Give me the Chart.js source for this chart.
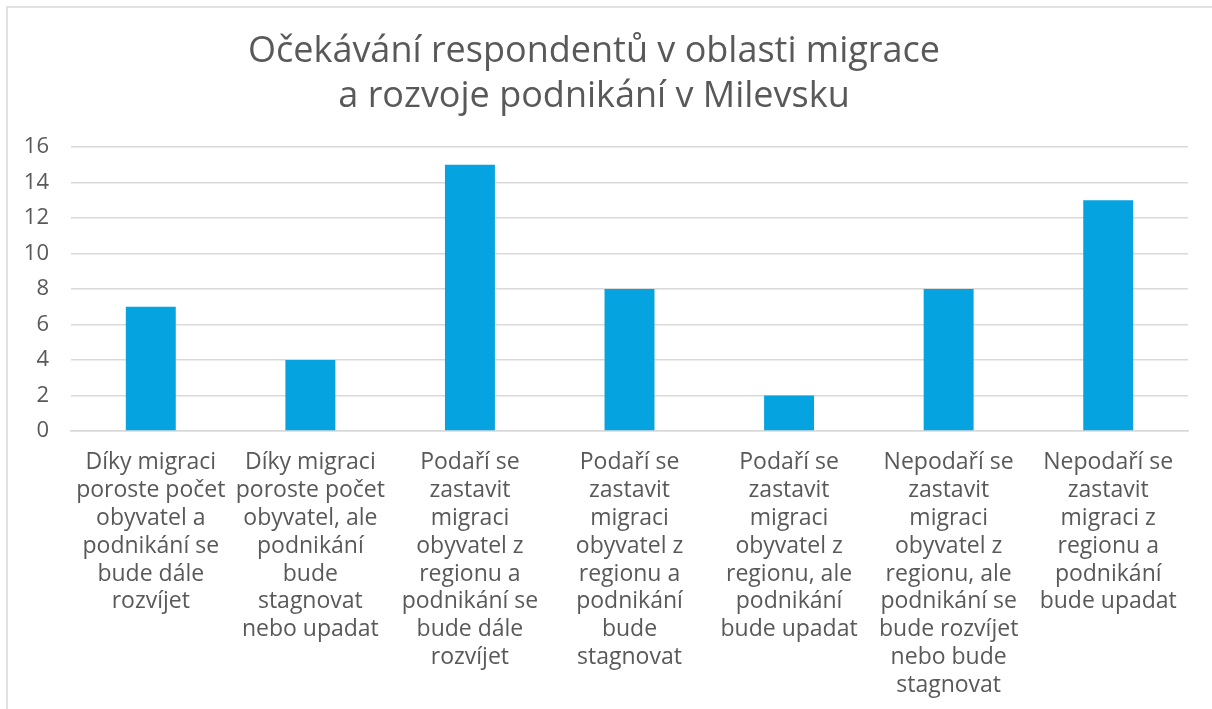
<!DOCTYPE html>
<html>
<head>
<meta charset="utf-8">
<script src="https://cdn.jsdelivr.net/npm/chart.js@4"></script>
<style>
  html, body { margin: 0; padding: 0; background: #fff; }
  #wrap { width: 1212px; height: 709px; }
</style>
</head>
<body>
<div id="wrap"><canvas id="migraceChart"></canvas></div>
<script>
var titulek = ['Očekávání respondentů v oblasti migrace', 'a rozvoje podnikání v Milevsku'];

var kategorie = [
  ['Díky migraci', 'poroste počet', 'obyvatel a', 'podnikání se', 'bude dále', 'rozvíjet'],
  ['Díky migraci', 'poroste počet', 'obyvatel, ale', 'podnikání', 'bude', 'stagnovat', 'nebo upadat'],
  ['Podaří se', 'zastavit', 'migraci', 'obyvatel z', 'regionu a', 'podnikání se', 'bude dále', 'rozvíjet'],
  ['Podaří se', 'zastavit', 'migraci', 'obyvatel z', 'regionu a', 'podnikání', 'bude', 'stagnovat'],
  ['Podaří se', 'zastavit', 'migraci', 'obyvatel z', 'regionu, ale', 'podnikání', 'bude upadat'],
  ['Nepodaří se', 'zastavit', 'migraci', 'obyvatel z', 'regionu, ale', 'podnikání se', 'bude rozvíjet', 'nebo bude', 'stagnovat'],
  ['Nepodaří se', 'zastavit', 'migraci z', 'regionu a', 'podnikání', 'bude upadat']
];

var pocty = [7, 4, 15, 8, 2, 8, 13];

var osaY = { min: 0, max: 16, krok: 2 };

var pismo = 'Open Sans';
var seda = '#595959';

// ramecek vlevo a nahore jako v puvodnim grafu
var ramecek = {
  id: 'ramecek',
  beforeDraw: function(chart) {
    var ctx = chart.ctx;
    ctx.save();
    ctx.strokeStyle = '#d9d9d9';
    ctx.lineWidth = 1.5;
    ctx.beginPath();
    ctx.moveTo(7, chart.height);
    ctx.lineTo(7, 7);
    ctx.lineTo(chart.width, 7);
    ctx.stroke();
    ctx.restore();
  }
};

document.addEventListener("DOMContentLoaded", function() {
  var ctxCanvas = document.getElementById('migraceChart');

  new Chart(ctxCanvas.getContext('2d'), {
    type: 'bar',
    data: {
      labels: kategorie,
      datasets: [{
        label: 'Počet',
        data: pocty,
        backgroundColor: '#05A3E0',
        categoryPercentage: 1,
        barPercentage: 0.313
      }]
    },
    options: {
      responsive: true,
      maintainAspectRatio: false,
      animation: false,
      layout: { padding: { left: 0, right: 24, top: 0, bottom: 0 } },
      plugins: {
        legend: { display: false },
        tooltip: { enabled: false },
        title: {
          display: true,
          text: titulek,
          color: seda,
          font: { family: pismo, size: 36, weight: 'normal', lineHeight: 1.25 },
          padding: { top: 29.5, bottom: 27.5 }
        }
      },
      scales: {
        x: {
          afterFit: function(scale) { scale.height = 278; },
          grid: { display: false, drawTicks: false },
          border: { display: true, color: '#d9d9d9', width: 1.5 },
          ticks: {
            color: seda,
            font: { family: pismo, size: 23, lineHeight: 1.217 },
            padding: 17,
            maxRotation: 0,
            autoSkip: false
          }
        },
        y: {
          min: osaY.min,
          max: osaY.max,
          afterFit: function(scale) { scale.width = 71; },
          grid: { color: '#d9d9d9', lineWidth: 1.5, drawTicks: false },
          border: { display: false },
          ticks: {
            stepSize: osaY.krok,
            color: seda,
            font: { family: pismo, size: 22 },
            padding: 22
          }
        }
      }
    },
    plugins: [ramecek]
  });
});
</script>
</body>
</html>
